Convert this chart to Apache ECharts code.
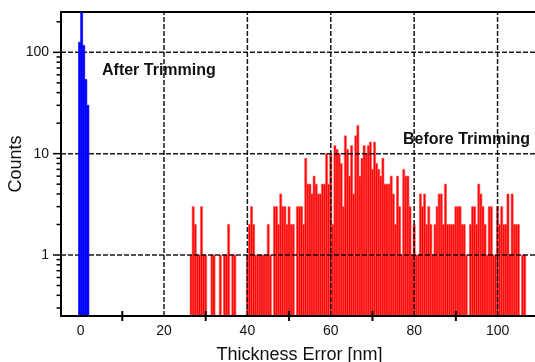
<!DOCTYPE html>
<html>
<head>
<meta charset="utf-8">
<script src="https://cdn.jsdelivr.net/npm/echarts@6/dist/echarts.min.js"></script>
<style>
  html, body { margin: 0; padding: 0; background: #fff; }
  #chart { width: 535px; height: 362px; }
</style>
</head>
<body>
<div id="chart"></div>
<script>
// histogram bins, 0.5 nm wide
const binWidth = 0.5;
const blueStart = -0.25;
const blueCounts = [126, 400, 117, 54, 30];
const redStart = 26.5;
const redCounts = [
  1, 3, 2, 1, 1, 3, 1, 1, 0, 0, 1, 1, 0, 0, 1, 0, 1, 1, 2, 0, 1, 1, 0, 0, 0, 0, 0,
  1, 2, 3, 2, 1, 1, 1, 1, 1, 1, 2, 1, 0,
  3, 3, 2, 4, 3, 3, 2, 3, 2, 2, 0, 3, 3, 3, 2, 9, 5, 5, 4, 6,
  5, 4, 4, 5, 5, 10, 5, 10, 2, 12, 11, 10, 8, 3, 15, 11, 6,
  12, 4, 15, 19, 6, 9, 12, 10, 12, 13, 7, 13, 8, 7, 6, 9, 5, 5, 5, 6,
  4, 2, 6, 3, 1, 7, 6, 6, 3, 1, 2, 1, 1, 4, 3, 4, 2, 3, 2, 1, 2, 3, 4,
  4, 2, 5, 2, 2, 2, 2, 3, 3, 3, 2, 2, 1, 0, 2, 3, 3, 2, 5, 4, 3, 2, 1,
  3, 3, 1, 1, 3, 2, 3, 2, 2, 4, 1, 4, 2, 2, 2, 0, 1, 1
];

const xMin = -4.7, xMax = 109.7;
const yMin = 0.25, yMax = 250;
const xGridLines = [20, 40, 60, 80, 100];
const yGridLines = [1, 10, 100];
const xOddTicks = [10, 30, 50, 70, 90];
const yMajorTicks = [1, 10, 100];
const yMinorTicks = [0.3, 0.4, 0.5, 0.6, 0.7, 0.8, 0.9,
  2, 3, 4, 5, 6, 7, 8, 9, 20, 30, 40, 50, 60, 70, 80, 90, 200];

const FONT = '"Liberation Sans", Arial, sans-serif';

const toBins = (start, counts) =>
  counts.map((c, i) => [start + i * binWidth, c]).filter(d => d[1] > 0);

const histItem = (color, seam) => (params, api) => {
  const x = api.value(0);
  const c = api.value(1);
  const p0 = api.coord([x - binWidth / 2, Math.min(c, yMax)]);
  const p1 = api.coord([x + binWidth / 2, yMin]);
  return {
    type: 'rect',
    shape: { x: p0[0], y: p0[1], width: p1[0] - p0[0], height: p1[1] - p0[1] },
    style: { fill: color, stroke: seam, lineWidth: 0.6 }
  };
};

const dashStyle = { stroke: '#000', lineWidth: 1.5, lineDash: [5, 2], opacity: 0.9 };

const chart = echarts.init(document.getElementById('chart'));

chart.setOption({
  animation: false,
  grid: {
    left: 61, right: -3, top: 12, bottom: 46,
    outerBoundsMode: 'none', containLabel: false,
    show: true, borderColor: '#000', borderWidth: 2, backgroundColor: 'transparent'
  },
  xAxis: {
    type: 'value', min: xMin, max: xMax, splitNumber: 11, z: 10,
    axisLine: { onZero: false, lineStyle: { color: '#000', width: 2 } },
    axisTick: { show: false },
    splitLine: { show: false },
    axisLabel: {
      margin: 8, color: '#111', fontSize: 14, fontFamily: FONT,
      formatter: v => (Math.abs(v % 20) < 1e-6 ? String(Math.round(v)) : '')
    },
    name: 'Thickness Error [nm]', nameLocation: 'middle', nameGap: 30,
    nameMoveOverlap: false,
    nameTextStyle: { fontSize: 18, color: '#111', fontFamily: FONT }
  },
  yAxis: {
    type: 'log', logBase: 10, min: yMin, max: yMax, z: 10,
    axisLine: { show: true, onZero: false, lineStyle: { color: '#000', width: 2 } },
    axisTick: { show: false },
    splitLine: { show: false },
    axisLabel: {
      margin: 12, color: '#111', fontSize: 14, fontFamily: FONT,
      formatter: v => {
        const lg = Math.log10(v);
        return Math.abs(lg - Math.round(lg)) < 1e-6 ? String(Math.round(v)) : '';
      }
    },
    name: 'Counts', nameLocation: 'middle', nameGap: 36,
    nameMoveOverlap: false,
    nameTextStyle: { fontSize: 18, color: '#111', fontFamily: FONT }
  },
  graphic: [
    { type: 'text', left: 102, top: 63, z: 20,
      style: { text: 'After Trimming', font: 'bold 16px ' + FONT, fill: '#111' } },
    { type: 'text', left: 403, top: 132, z: 20,
      style: { text: 'Before Trimming', font: 'bold 16px ' + FONT, fill: '#111' } }
  ],
  series: [
    {
      name: 'Before Trimming', type: 'custom', z: 2, clip: true,
      data: toBins(redStart, redCounts),
      encode: { x: 0, y: 1 },
      renderItem: histItem('#ff0000', '#ff5050')
    },
    {
      name: 'vgrid', type: 'custom', z: 3, silent: true,
      data: xGridLines.map(v => [v, yMin]),
      encode: { x: 0, y: 1 },
      renderItem: (params, api) => {
        const a = api.coord([api.value(0), yMin]);
        const b = api.coord([api.value(0), yMax]);
        return { type: 'line', shape: { x1: a[0], y1: a[1], x2: b[0], y2: b[1] }, style: dashStyle };
      }
    },
    {
      name: 'hgrid', type: 'custom', z: 3, silent: true,
      data: yGridLines.map(v => [xMin, v]),
      encode: { x: 0, y: 1 },
      renderItem: (params, api) => {
        const a = api.coord([xMin, api.value(1)]);
        const b = api.coord([xMax, api.value(1)]);
        return { type: 'line', shape: { x1: a[0], y1: a[1], x2: b[0], y2: b[1] }, style: dashStyle };
      }
    },
    {
      name: 'After Trimming', type: 'custom', z: 4, clip: true,
      data: toBins(blueStart, blueCounts),
      encode: { x: 0, y: 1 },
      renderItem: histItem('#0000ff', '#0000ff')
    },
    {
      name: 'yticks', type: 'custom', z: 11, silent: true, clip: false,
      data: yMajorTicks.map(v => [xMin, v, 8]).concat(yMinorTicks.map(v => [xMin, v, 4.5])),
      encode: { x: 0, y: 1 },
      renderItem: (params, api) => {
        const p = api.coord([xMin, api.value(1)]);
        const len = api.value(2);
        return { type: 'line', shape: { x1: p[0] - len, y1: p[1], x2: p[0], y2: p[1] },
          style: { stroke: '#000', lineWidth: 1.5 } };
      }
    },
    {
      name: 'xticks', type: 'custom', z: 11, silent: true, clip: false,
      data: xOddTicks.map(v => [v, yMin]),
      encode: { x: 0, y: 1 },
      renderItem: (params, api) => {
        const p = api.coord([api.value(0), yMin]);
        return { type: 'line', shape: { x1: p[0], y1: p[1] - 5, x2: p[0], y2: p[1] + 5 },
          style: { stroke: '#000', lineWidth: 2 } };
      }
    }
  ]
});
</script>
</body>
</html>
